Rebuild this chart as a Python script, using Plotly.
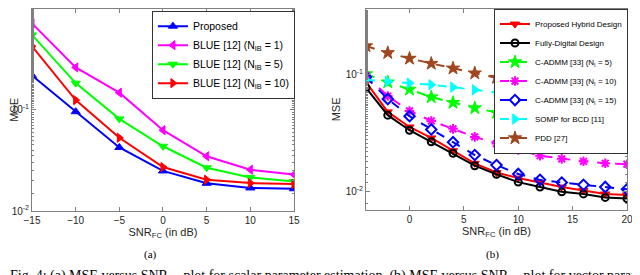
import plotly.graph_objects as go

# ---- data: panel (a) ----
snr_a = [-15, -10, -5, 0, 5, 10, 15]
proposed_a = [0.219, 0.096, 0.0425, 0.0249, 0.0188, 0.0169, 0.0166]
blue_nib1 = [0.716, 0.263, 0.148, 0.063, 0.0348, 0.0256, 0.0229]
blue_nib5 = [0.552, 0.184, 0.0815, 0.0437, 0.0268, 0.0215, 0.0196]
blue_nib10 = [0.426, 0.125, 0.053, 0.0272, 0.0204, 0.0189, 0.0185]

# ---- data: panel (b) ----
snr_b = [-4, -2, 0, 2, 4, 6, 8, 10, 12, 14, 16, 18, 20]
hybrid = [0.086, 0.048, 0.0357, 0.0288, 0.0224, 0.0175, 0.0146, 0.0131, 0.012, 0.011, 0.01026, 0.0096, 0.0094]
digital = [0.077, 0.045, 0.0335, 0.0267, 0.0213, 0.0167, 0.0141, 0.0121, 0.011, 0.0100, 0.0096, 0.00896, 0.00877]
cadmm5 = [0.101, 0.086, 0.0746, 0.0642, 0.0575, 0.0518, 0.0473, 0.0435, 0.0402, 0.0377, 0.0357, 0.0344, 0.0329]
cadmm10 = [0.098, 0.0655, 0.0489, 0.0402, 0.0344, 0.0294, 0.0258, 0.0227, 0.0203, 0.0191, 0.0182, 0.0175, 0.0172]
cadmm15 = [0.095, 0.0618, 0.0441, 0.034, 0.0265, 0.0206, 0.0169, 0.0142, 0.01265, 0.012, 0.01147, 0.011, 0.0105]
somp = [0.090, 0.0872, 0.0844, 0.0818, 0.078, 0.074, 0.0704, 0.0663, 0.063, 0.0595, 0.0565, 0.0536, 0.0508]
pdd = [0.175, 0.153, 0.137, 0.124, 0.113, 0.1026, 0.094, 0.0878, 0.0822, 0.077, 0.0731, 0.0704, 0.0673]

fig = go.Figure()

def add(x, y, name, color, symbol, xa, ya, legend, dash="solid", msize=8, mline=None, mfill=None):
    fig.add_trace(go.Scatter(
        x=x, y=y, name=name, mode="lines+markers",
        line=dict(color=color, width=2, dash=dash),
        marker=dict(symbol=symbol, size=msize, color=mfill if mfill else color,
                    line=dict(color=color, width=mline if mline else 1)),
        xaxis=xa, yaxis=ya, legend=legend))

add(snr_a, proposed_a, "Proposed", "#0000FF", "triangle-up", "x", "y", "legend")
add(snr_a, blue_nib1, "BLUE [12] (N<sub>IB</sub> = 1)", "#FF00FF", "triangle-left", "x", "y", "legend")
add(snr_a, blue_nib5, "BLUE [12] (N<sub>IB</sub> = 5)", "#00FF00", "triangle-down", "x", "y", "legend")
add(snr_a, blue_nib10, "BLUE [12] (N<sub>IB</sub> = 10)", "#FF0000", "triangle-right", "x", "y", "legend")

add(snr_b, hybrid, "Proposed Hybrid Design", "#FF0000", "triangle-down", "x2", "y2", "legend2")
add(snr_b, digital, "Fully-Digital Design", "#000000", "circle-open", "x2", "y2", "legend2", msize=7, mline=2)
add(snr_b, cadmm5, "C-ADMM [33] (N<sub>I</sub> = 5)", "#00FF00", "star", "x2", "y2", "legend2", dash="dash", msize=10)
add(snr_b, cadmm10, "C-ADMM [33] (N<sub>I</sub> = 10)", "#FF00FF", "asterisk-open", "x2", "y2", "legend2", dash="dash", msize=8, mline=2)
add(snr_b, cadmm15, "C-ADMM [33] (N<sub>I</sub> = 15)", "#0000FF", "diamond-open", "x2", "y2", "legend2", dash="dash", msize=8, mline=2)
add(snr_b, somp, "SOMP for BCD [11]", "#00FFFF", "triangle-right", "x2", "y2", "legend2", dash="dash", msize=9)
add(snr_b, pdd, "PDD [27]", "#A0461E", "star", "x2", "y2", "legend2", dash="dash", msize=10)

axcol = "#808080"
tickfont = dict(family="Liberation Sans, Arial, sans-serif", size=10, color="#262626")
common_x = dict(showline=True, linecolor=axcol, linewidth=1, mirror="ticks", ticks="inside",
                ticklen=4, tickcolor=axcol, showgrid=False, zeroline=False, tickfont=tickfont,
                automargin=False,
                title=dict(text="SNR<sub>FC</sub> (in dB)", font=dict(family="Liberation Sans, Arial", size=11, color="#262626"), standoff=2))
common_y = dict(type="log", showline=True, linecolor=axcol, linewidth=1, mirror="ticks", ticks="inside",
                ticklen=4, tickcolor=axcol, showgrid=False, zeroline=False, tickfont=tickfont,
                automargin=False,
                minor=dict(ticks="inside", ticklen=2, tickcolor=axcol, showgrid=False),
                title=dict(text="MSE", font=dict(family="Liberation Sans, Arial", size=11, color="#262626"), standoff=2))

# page body has an 8px margin, so the figure is sized 632x267 to fit the 640x275 window
W, H = 632, 267
fig.update_layout(
    width=W, height=H, margin=dict(l=0, r=0, t=0, b=0, autoexpand=False),
    paper_bgcolor="white", plot_bgcolor="white", showlegend=True,
    xaxis=dict(common_x, domain=[0.038, 0.4525], range=[-15, 15], tickvals=[-15, -10, -5, 0, 5, 10, 15]),
    yaxis=dict(common_y, domain=[0.2397, 0.997], range=[-2, 0],
               tickvals=[0.01, 0.1, 1], ticktext=["10<sup>-2</sup>", "10<sup>-1</sup>", "10<sup>0</sup>"]),
    xaxis2=dict(common_x, domain=[0.5665, 0.9794], range=[-4, 20], tickvals=[0, 5, 10, 15, 20], anchor="y2"),
    yaxis2=dict(common_y, domain=[0.2434, 0.997], range=[-2.155, -0.44], anchor="x2",
                tickvals=[0.01, 0.1], ticktext=["10<sup>-2</sup>", "10<sup>-1</sup>"]),
    legend=dict(x=0.454, y=0.99, xanchor="right", yanchor="top", bgcolor="white",
                bordercolor="#333333", borderwidth=1, tracegroupgap=0,
                font=dict(family="Liberation Sans, Arial", size=10.5, color="black"),
                itemwidth=30),
    legend2=dict(x=0.981, y=0.998, xanchor="right", yanchor="top", bgcolor="white",
                 bordercolor="#333333", borderwidth=1, tracegroupgap=0,
                 font=dict(family="Liberation Sans, Arial", size=8, color="black"),
                 itemwidth=30),
)

fig.add_annotation(text="(a)", x=0.226, y=0.075, xref="paper", yref="paper", showarrow=False,
                   xanchor="center", yanchor="middle",
                   font=dict(family="Liberation Serif, Times New Roman, serif", size=11, color="black"))
fig.add_annotation(text="(b)", x=0.767, y=0.075, xref="paper", yref="paper", showarrow=False,
                   xanchor="center", yanchor="middle",
                   font=dict(family="Liberation Serif, Times New Roman, serif", size=11, color="black"))
fig.add_annotation(text="Fig. 4: (a) MSE versus SNR<sub>FC</sub> plot for scalar parameter estimation. (b) MSE versus SNR<sub>FC</sub> plot for vector parameter estimation.",
                   x=0.0, y=0.035, xref="paper", yref="paper", xanchor="left", yanchor="top",
                   showarrow=False,
                   font=dict(family="Liberation Serif, Times New Roman, serif", size=14, color="black"))

fig.write_html("out.html")
